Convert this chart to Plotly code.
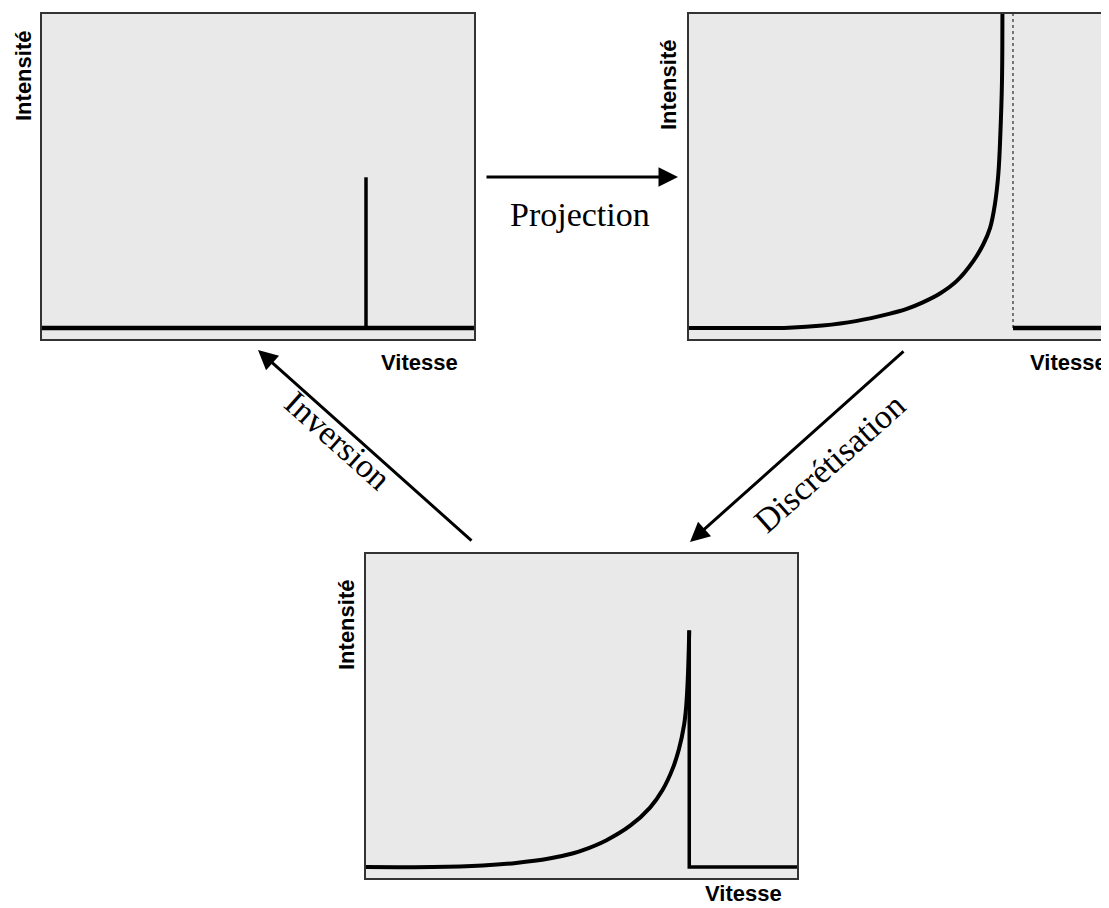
import plotly.graph_objects as go

# The page adds an 8 px body margin, so the figure is 8 px smaller and all
# reference pixel positions are shifted by 8 px.
OFF = 8
W, H = 1109 - OFF, 908 - OFF

# ---------------- data ----------------
# Panel 1 : single line at the true velocity
p1_base_x = [0, 100]
p1_base_y = [0, 0]
p1_spike_x = [75, 75]
p1_spike_y = [0, 48]

# Panel 2 : projected profile (diverges near the edge)
p2_curve_x = [0, 11.6, 23.1, 30.9, 38.6, 46.3, 50.4, 54.0, 58.1, 62.0, 65.8,
              68.1, 69.7, 70.8, 71.6, 72.1, 72.45, 72.55]
p2_curve_y = [0, 0, 0.1, 0.8, 2.2, 4.5, 6.1, 8.1, 11.0, 15.0, 21.3,
              26.6, 31.9, 39.3, 48.9, 62.7, 78.6, 100]
p2_edge_x = [75, 75]
p2_edge_y = [0, 100]
p2_tail_x = [75, 100]
p2_tail_y = [0, 0]

# Panel 3 : discretised profile
p3_curve_x = [0, 15.5, 27.1, 34.8, 42.5, 48.1, 50.2, 55.7, 61.3, 65.9, 68.8,
              71.2, 72.6, 73.8, 74.3, 74.7, 75.0]
p3_curve_y = [0, 0, 0.5, 1.3, 2.7, 4.4, 5.3, 8.5, 13.2, 19.0, 24.6,
              31.6, 37.6, 45.4, 51.5, 61.5, 75.6]
p3_drop_x = [75, 75, 100]
p3_drop_y = [75.6, 0, 0]

x_label = "Vitesse"
y_label = "Intensité"
step_labels = ["Projection", "Discrétisation", "Inversion"]

# ---------------- figure ----------------
fig = go.Figure()
LINE = "black"

def add(x, y, ax, width=3.5, dash=None, color=LINE, shape="linear"):
    line = dict(color=color, width=width, shape=shape)
    if dash:
        line["dash"] = dash
    if shape == "spline":
        line["smoothing"] = 1.0
    fig.add_trace(go.Scatter(
        x=x, y=y, mode="lines", xaxis="x" + ax, yaxis="y" + ax,
        line=line, hoverinfo="skip", showlegend=False))

# panel 1
add(p1_base_x, p1_base_y, "", width=4.5)
add(p1_spike_x, p1_spike_y, "", width=3.5)
# panel 2
add(p2_edge_x, p2_edge_y, "2", width=1.4, dash="dot", color="#444444")
add(p2_curve_x, p2_curve_y, "2", width=4, shape="spline")
add(p2_tail_x, p2_tail_y, "2", width=4.5)
# panel 3
add(p3_curve_x, p3_curve_y, "3", width=4, shape="spline")
add(p3_drop_x, p3_drop_y, "3", width=3.5)

def px(xp):
    return (xp - OFF) / W

def py(yp):
    return 1 - (yp - OFF) / H

axis_common = dict(showgrid=False, zeroline=False, showticklabels=False,
                   ticks="", showline=True, linecolor="#333333", linewidth=2,
                   fixedrange=True)

layout = dict(
    width=W, height=H, margin=dict(l=0, r=0, t=0, b=0),
    paper_bgcolor="white", plot_bgcolor="#e9e9e9", showlegend=False,
    xaxis=dict(domain=[px(42), px(474)], range=[0, 100], anchor="y",
               mirror=True, **axis_common),
    yaxis=dict(domain=[py(339), py(14)], range=[-3.5, 100], anchor="x",
               mirror=True, **axis_common),
    xaxis2=dict(domain=[px(689), 1.0], range=[0, 100 * (1109 - 689) / 432],
                anchor="y2", mirror=True, **axis_common),
    yaxis2=dict(domain=[py(339), py(14)], range=[-3.5, 100], anchor="x2",
                mirror=False, **axis_common),
    xaxis3=dict(domain=[px(366), px(797)], range=[0, 100], anchor="y3",
                mirror=True, **axis_common),
    yaxis3=dict(domain=[py(878), py(554)], range=[-3.5, 100], anchor="x3",
                mirror=True, **axis_common),
)
fig.update_layout(**layout)

sans = dict(family="Liberation Sans, Arial, sans-serif", size=22,
            color="black", weight="bold")
serif = dict(family="Liberation Serif, Times New Roman, serif", size=34,
             color="black")

ann = []
# axis labels
for (xp, yp) in [(23, 76), (668, 85), (346, 625)]:
    ann.append(dict(text=y_label, x=px(xp), y=py(yp), xref="paper",
                    yref="paper", textangle=-90, showarrow=False, font=sans,
                    xanchor="center", yanchor="middle"))
for (xp, yp, ya) in [(419, 362, "middle"), (1068, 362, "middle"),
                     (743, 908, "bottom")]:
    ann.append(dict(text=x_label, x=px(xp), y=py(yp), xref="paper",
                    yref="paper", showarrow=False, font=sans,
                    xanchor="center", yanchor=ya))

# arrows (tip, tail) in reference pixel positions
arrows = [((678, 177), (485, 177)),
          ((690, 542), (905, 350)),
          ((258, 350), (473, 542))]
for (tip, tail) in arrows:
    ann.append(dict(text="", x=px(tip[0]), y=py(tip[1]),
                    ax=tail[0] - tip[0], ay=tail[1] - tip[1],
                    xref="paper", yref="paper", axref="pixel", ayref="pixel",
                    showarrow=True, arrowhead=2, arrowsize=1.3, arrowwidth=3,
                    arrowcolor="black", standoff=0, startstandoff=0))

# step labels
for text, (xp, yp), ang in [(step_labels[0], (580, 215), 0),
                            (step_labels[1], (829, 463), -41.8),
                            (step_labels[2], (338, 440), 41.8)]:
    ann.append(dict(text=text, x=px(xp), y=py(yp), xref="paper",
                    yref="paper", showarrow=False, font=serif,
                    textangle=ang, xanchor="center", yanchor="middle"))

fig.update_layout(annotations=ann)
fig.write_html("out.html")
